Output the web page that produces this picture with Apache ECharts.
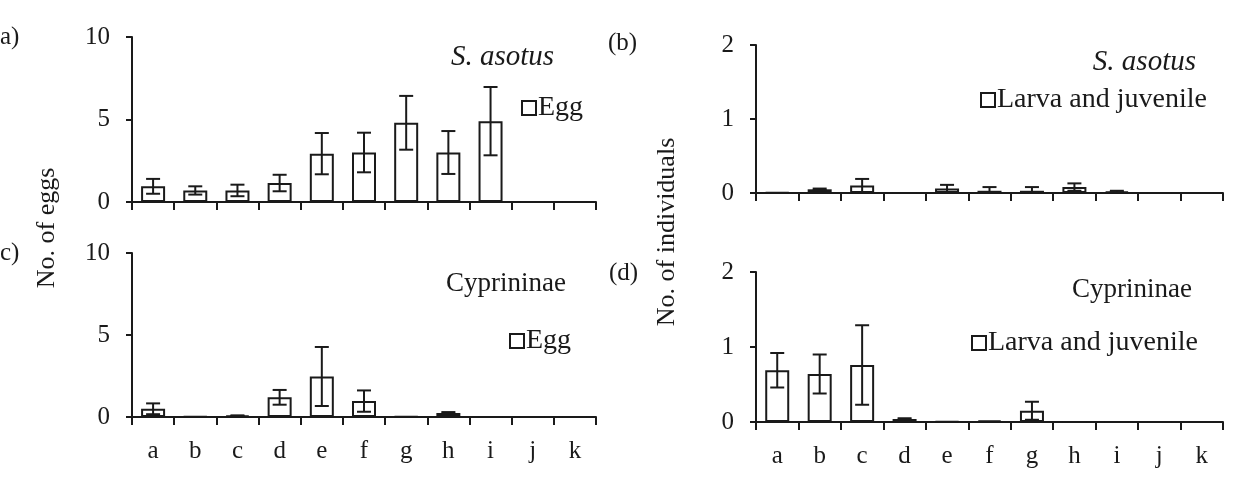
<!DOCTYPE html>
<html>
<head>
<meta charset="utf-8">
<script src="https://cdn.jsdelivr.net/npm/echarts@6/dist/echarts.min.js"></script>
<style>
html, body { margin: 0; padding: 0; background: #fff; }
#chart { width: 1238px; height: 477px; }
</style>
</head>
<body>
<div id="chart"></div>
<script>
// sites a..k
const categories = ['a', 'b', 'c', 'd', 'e', 'f', 'g', 'h', 'i', 'j', 'k'];

// (a) S. asotus eggs
const eggAsotus = [0.95, 0.7, 0.7, 1.15, 2.93, 3.0, 4.8, 3.0, 4.9, 0, 0];
const eggAsotusErr = [0.45, 0.25, 0.35, 0.5, 1.25, 1.2, 1.63, 1.3, 2.07, 0, 0];
// (b) S. asotus larva and juvenile
const larvaAsotus = [0.01, 0.05, 0.1, 0, 0.06, 0.03, 0.03, 0.08, 0.02, 0, 0];
const larvaAsotusErr = [0, 0.01, 0.09, 0, 0.05, 0.05, 0.05, 0.05, 0.01, 0, 0];
// (c) Cyprininae eggs
const eggCyp = [0.5, 0.04, 0.08, 1.2, 2.47, 0.97, 0.04, 0.25, 0, 0, 0];
const eggCypErr = [0.33, 0, 0.02, 0.45, 1.8, 0.65, 0, 0.05, 0, 0, 0];
// (d) Cyprininae larva and juvenile
const larvaCyp = [0.69, 0.64, 0.76, 0.04, 0.01, 0.02, 0.15, 0, 0, 0, 0];
const larvaCypErr = [0.23, 0.26, 0.53, 0.01, 0, 0, 0.12, 0, 0, 0, 0];

const FONT = 'Liberation Serif';
const INK = '#1a1a1a';

const myChart = echarts.init(document.getElementById('chart'));

function xAxisOf(idx, showLabel) {
	return {
		type: 'category',
		gridIndex: idx,
		data: categories,
		axisLine: { lineStyle: { color: INK, width: 2 } },
		axisTick: { show: true, length: 8, lineStyle: { color: INK, width: 2 } },
		axisLabel: { show: showLabel, interval: 0, margin: 22, fontFamily: FONT, fontSize: 25, color: INK }
	};
}

function yAxisOf(idx, max, interval) {
	return {
		type: 'value',
		gridIndex: idx,
		min: 0,
		max: max,
		interval: interval,
		splitLine: { show: false },
		axisLine: { show: true, lineStyle: { color: INK, width: 2 } },
		axisTick: { show: true, length: 6, lineStyle: { color: INK, width: 2 } },
		axisLabel: { margin: 22, fontFamily: FONT, fontSize: 25, color: INK }
	};
}

function barSeries(idx, name, values) {
	return {
		name: name,
		type: 'bar',
		xAxisIndex: idx,
		yAxisIndex: idx,
		data: values,
		barWidth: 24,
		itemStyle: { color: '#fff', borderColor: INK, borderWidth: 2 },
		silent: true
	};
}

// error bars drawn on the axis scales
function errSeries(idx, values, errs) {
	return {
		type: 'custom',
		xAxisIndex: idx,
		yAxisIndex: idx,
		z: 5,
		silent: true,
		data: values.map((v, i) => [i, v, errs[i]]),
		renderItem: function (params, api) {
			const e = api.value(2);
			if (!e) return;
			const i = api.value(0);
			const v = api.value(1);
			const top = api.coord([i, v + e]);
			const bot = api.coord([i, Math.max(v - e, 0)]);
			const hw = 7;
			const style = { stroke: INK, lineWidth: 2 };
			return {
				type: 'group',
				children: [
					{ type: 'line', shape: { x1: top[0], y1: top[1], x2: bot[0], y2: bot[1] }, style: style },
					{ type: 'line', shape: { x1: top[0] - hw, y1: top[1], x2: top[0] + hw, y2: top[1] }, style: style },
					{ type: 'line', shape: { x1: bot[0] - hw, y1: bot[1], x2: bot[0] + hw, y2: bot[1] }, style: style }
				]
			};
		}
	};
}

function legendOf(name, left, top) {
	return {
		data: [name],
		left: left,
		top: top,
		icon: 'rect',
		itemWidth: 14,
		itemHeight: 14,
		selectedMode: false,
		itemStyle: { color: '#fff', borderColor: INK, borderWidth: 2 },
		textStyle: { fontFamily: FONT, fontSize: 28, color: INK, padding: [0, 0, 0, -3] }
	};
}

function label(text, x, y, extra) {
	return {
		type: 'text',
		x: x,
		y: y,
		style: Object.assign({
			text: text,
			fontFamily: FONT,
			fontSize: 27,
			fill: INK,
			textAlign: 'left',
			textVerticalAlign: 'middle'
		}, extra || {})
	};
}

const option = {
	animation: false,
	grid: [
		{ left: 132, width: 464, top: 37, height: 165 },
		{ left: 756, width: 467, top: 45, height: 148 },
		{ left: 132, width: 464, top: 253, height: 164 },
		{ left: 756, width: 467, top: 272, height: 150 }
	],
	xAxis: [xAxisOf(0, false), xAxisOf(1, false), xAxisOf(2, true), xAxisOf(3, true)],
	yAxis: [yAxisOf(0, 10, 5), yAxisOf(1, 2, 1), yAxisOf(2, 10, 5), yAxisOf(3, 2, 1)],
	legend: [
		legendOf('Egg', 516, 89),
		legendOf('Larva and juvenile', 975, 81),
		legendOf('Egg', 504, 322),
		legendOf('Larva and juvenile', 966, 324)
	],
	series: [
		barSeries(0, 'Egg', eggAsotus),
		errSeries(0, eggAsotus, eggAsotusErr),
		barSeries(1, 'Larva and juvenile', larvaAsotus),
		errSeries(1, larvaAsotus, larvaAsotusErr),
		barSeries(2, 'Egg', eggCyp),
		errSeries(2, eggCyp, eggCypErr),
		barSeries(3, 'Larva and juvenile', larvaCyp),
		errSeries(3, larvaCyp, larvaCypErr)
	],
	graphic: [
		label('a)', 0, 37, { fontSize: 25 }),
		label('c)', 0, 253, { fontSize: 25 }),
		label('(b)', 608, 43, { fontSize: 25 }),
		label('(d)', 609, 273, { fontSize: 25 }),
		label('S. asotus', 451, 57, { fontStyle: 'italic', fontSize: 29 }),
		label('S. asotus', 1196, 62, { fontStyle: 'italic', fontSize: 29, textAlign: 'right' }),
		label('Cyprininae', 566, 284, { textAlign: 'right' }),
		label('Cyprininae', 1192, 290, { textAlign: 'right' }),
		label('No. of eggs', 47, 228, { fontSize: 26, textAlign: 'center', rotation: Math.PI / 2 }),
		label('No. of individuals', 667, 232, { fontSize: 26, textAlign: 'center', rotation: Math.PI / 2 })
	]
};

// rotation belongs to the element, not its style
option.graphic.forEach(g => {
	if (g.style.rotation) {
		g.rotation = g.style.rotation;
		delete g.style.rotation;
	}
});

myChart.setOption(option);

window.addEventListener('resize', () => {
	myChart.resize();
});
</script>
</body>
</html>
